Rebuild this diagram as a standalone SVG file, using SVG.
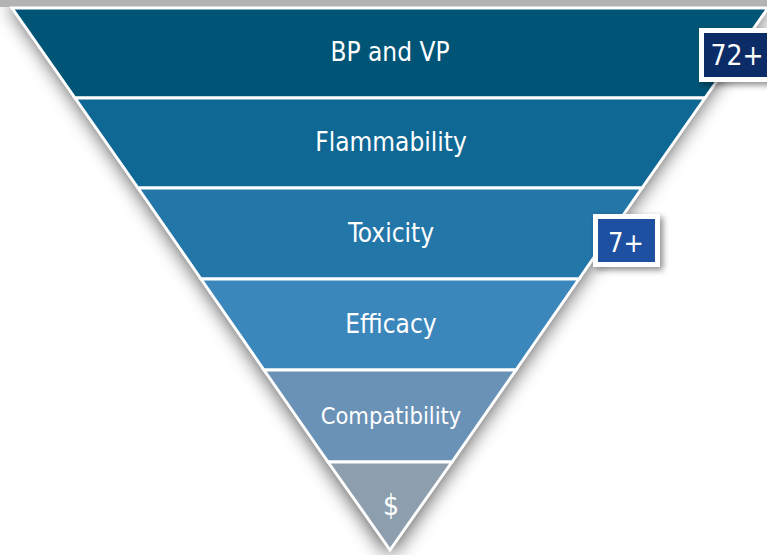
<svg xmlns="http://www.w3.org/2000/svg" width="767" height="555" viewBox="0 0 767 555">
  <defs>
    <filter id="soft" x="-20%" y="-20%" width="140%" height="140%">
      <feGaussianBlur stdDeviation="10"/>
    </filter>
    <filter id="badgeShadow" x="-30%" y="-30%" width="160%" height="160%">
      <feGaussianBlur in="SourceAlpha" stdDeviation="3"/>
      <feOffset dx="3" dy="3"/>
      <feComponentTransfer><feFuncA type="linear" slope="0.45"/></feComponentTransfer>
      <feMerge><feMergeNode/><feMergeNode in="SourceGraphic"/></feMerge>
    </filter>
  </defs>
  <style>
    .band { stroke: #ffffff; stroke-width: 3; stroke-linejoin: miter; }
    .lbl { font-family: "DejaVu Sans Condensed", "DejaVu Sans", sans-serif; fill: #ffffff; text-anchor: middle; }
    .badge-frame { fill: #ffffff; }
    .badge-text { font-family: "DejaVu Sans Condensed", "DejaVu Sans", sans-serif; fill: #ffffff; text-anchor: middle; }
  </style>

  <rect width="767" height="555" fill="#ffffff"/>

  <!-- soft shadow under the funnel -->
  <polygon points="8,2 772,2 390,556" fill="#000000" opacity="0.7" filter="url(#soft)"/>
  <rect x="0" y="0" width="767" height="7" fill="#b3b3b3"/>

  <g id="bp-vp">
    <polygon class="band" points="12,8 768,8 705,98 75,98" fill="#005577"/>
    <text class="lbl" x="390" y="61" font-size="26">BP and VP</text>
  </g>
  <g id="flammability">
    <polygon class="band" points="75,98 705,98 642,188 138,188" fill="#0f6793"/>
    <text class="lbl" x="391" y="151" font-size="26">Flammability</text>
  </g>
  <g id="toxicity">
    <polygon class="band" points="138,188 642,188 579,279 201,279" fill="#2376a8"/>
    <text class="lbl" x="391" y="242" font-size="26">Toxicity</text>
  </g>
  <g id="efficacy">
    <polygon class="band" points="201,279 579,279 516,370 264,370" fill="#3b87bb"/>
    <text class="lbl" x="391" y="333" font-size="26">Efficacy</text>
  </g>
  <g id="compatibility">
    <polygon class="band" points="264,370 516,370 452,462 328,462" fill="#6a92b6"/>
    <text class="lbl" x="391" y="424" font-size="23.5">Compatibility</text>
  </g>
  <g id="cost">
    <polygon class="band" points="328,462 452,462 390,550" fill="#8d9fae"/>
    <text class="lbl" x="391" y="515" font-size="28">$</text>
  </g>

  <g id="badge-72">
    <g filter="url(#badgeShadow)">
      <rect class="badge-frame" x="699" y="28" width="80" height="54"/>
    </g>
    <rect x="704" y="33" width="75" height="44" fill="#0b2c66"/>
    <text class="badge-text" x="737" y="65" font-size="28">72+</text>
  </g>
  <g id="badge-7">
    <g filter="url(#badgeShadow)">
      <rect class="badge-frame" x="593" y="214" width="67" height="53"/>
    </g>
    <rect x="598" y="219" width="57" height="43" fill="#1f4fa0"/>
    <text class="badge-text" x="626" y="252" font-size="27">7+</text>
  </g>
</svg>
